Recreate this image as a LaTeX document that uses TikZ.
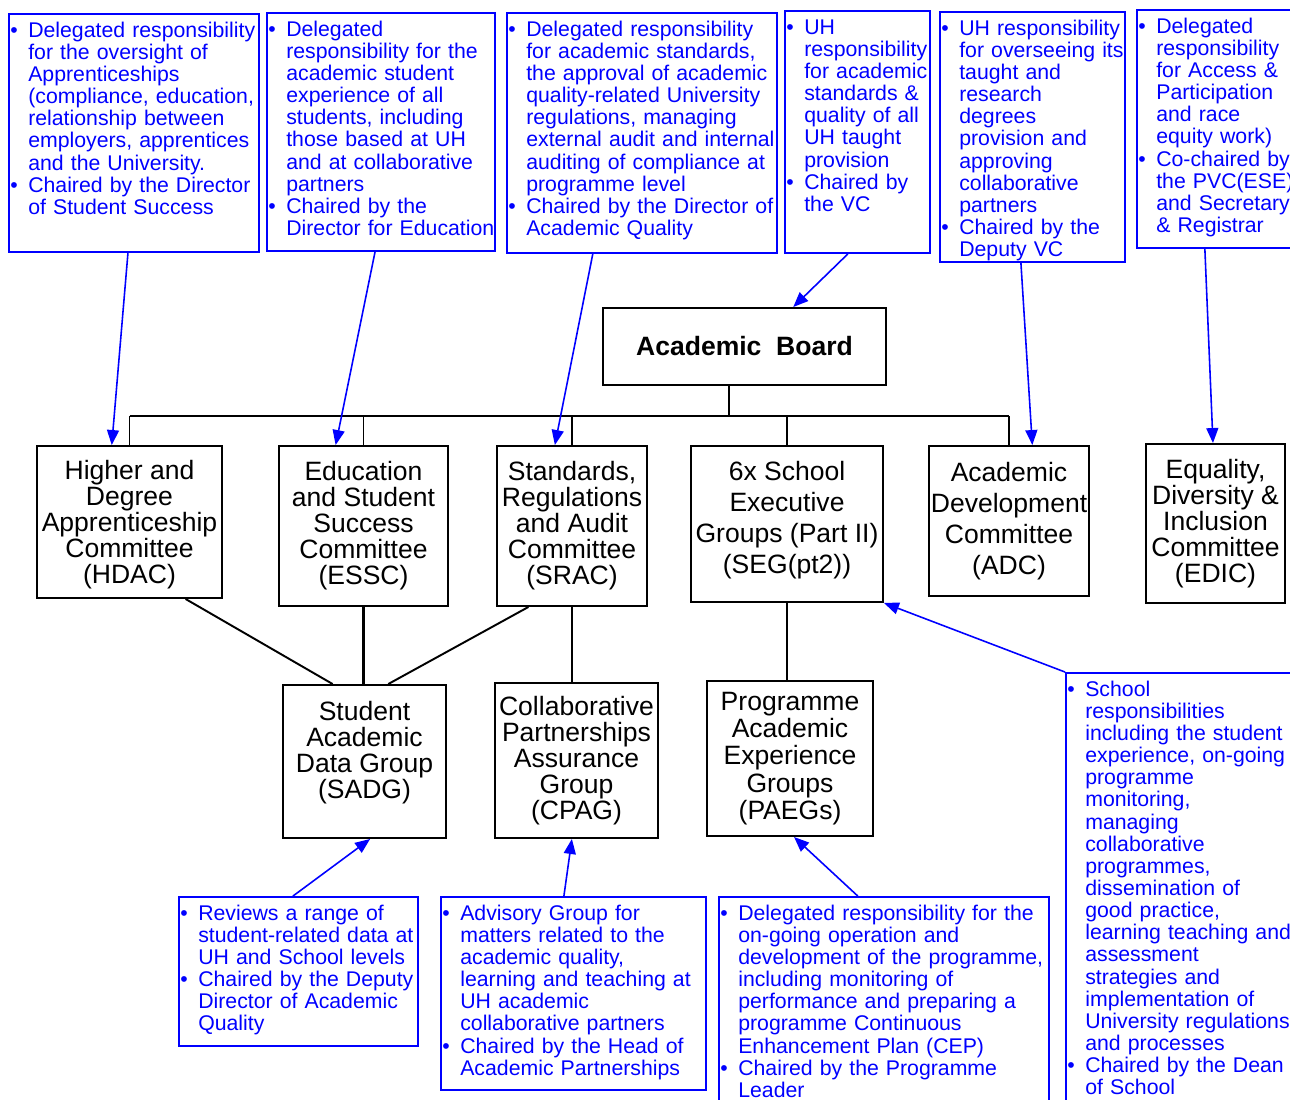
\documentclass[tikz,border=0pt]{standalone}
\usepackage{fontspec}
\setmainfont{Liberation Sans}
\usetikzlibrary{arrows.meta,calc}

\newlength{\bulw}
\setlength{\bulw}{10.2pt}
\newcommand{\bitem}{\par\noindent\hangindent=\bulw\hangafter=1\hbox to\bulw{\textbullet\hfil}\ignorespaces}
\newcommand{\orgfont}{\fontsize{15.1}{14.8}\selectfont\lineskiplimit=-10pt}
\newcommand{\notefont}{\fontsize{12.1}{12.6}\selectfont\lineskiplimit=-10pt}

\tikzset{
  org/.style={draw=black, line width=1.1pt, align=center, font=\orgfont, inner sep=0pt},
  notebox/.style={draw=blue, line width=1.1pt},
  notetext/.style={blue, font=\notefont, text width=12cm, align=left, anchor=north west, inner xsep=0.04cm, inner ysep=1pt},
  wh/.style 2 args={minimum width=#1*0.02cm, minimum height=#2*0.02cm},
  link/.style={black, line width=1.1pt},
  feed/.style={blue, line width=0.9pt, -{Triangle[length=0.3cm, width=0.24cm]}},
}

\begin{document}
\begin{tikzpicture}[x=0.02cm, y=-0.02cm]
  \useasboundingbox (0,0) rectangle (1290,1099);

  % Remit boxes along the top
  \node[notebox, wh={250}{238}] (hdacnote) at (134,133) {};
  \node[notetext] (hdacnote-t) at (hdacnote.north west) {%
    \bitem Delegated responsibility\newline for the oversight of\newline Apprenticeships\newline (compliance, education,\newline relationship between\newline employers, apprentices\newline and the University.
    \bitem Chaired by the Director\newline of Student Success\par};

  \node[notebox, wh={228}{238}] (esscnote) at (381,132) {};
  \node[notetext] (esscnote-t) at (esscnote.north west) {%
    \bitem Delegated\newline responsibility for the\newline academic student\newline experience of all\newline students, including\newline those based at UH\newline and at collaborative\newline partners
    \bitem Chaired by the\newline Director for Education\par};

  \node[notebox, wh={270}{240}] (sracnote) at (642,133) {};
  \node[notetext] (sracnote-t) at (sracnote.north west) {%
    \bitem Delegated responsibility\newline for academic standards,\newline the approval of academic\newline quality-related University\newline regulations, managing\newline external audit and internal\newline auditing of compliance at\newline programme level
    \bitem Chaired by the Director of\newline Academic Quality\par};

  \node[notebox, wh={145}{242}] (boardnote) at (857.5,132) {};
  \node[notetext] (boardnote-t) at (boardnote.north west) {%
    \bitem UH\newline responsibility\newline for academic\newline standards \&\newline quality of all\newline UH taught\newline provision
    \bitem Chaired by\newline the VC\par};

  \node[notebox, wh={185}{250}] (adcnote) at (1032.5,137) {};
  \node[notetext] (adcnote-t) at (adcnote.north west) {%
    \bitem UH responsibility\newline for overseeing its\newline taught and\newline research\newline degrees\newline provision and\newline approving\newline collaborative\newline partners
    \bitem Chaired by the\newline Deputy VC\par};

  \node[notebox, wh={168}{238}] (edicnote) at (1221,129) {};
  \node[notetext] (edicnote-t) at (edicnote.north west) {%
    \bitem Delegated\newline responsibility\newline for Access \&\newline Participation\newline and race\newline equity work)
    \bitem Co-chaired by\newline the PVC(ESE)\newline and Secretary\newline \& Registrar\par};

  % Committees
  \node[org, wh={283}{77}, font=\orgfont\bfseries] (board) at (744.5,346.5) {Academic~~Board};
  \node[org, wh={185}{152}, text depth=0pt] (hdac) at (129.5,522) {Higher and\\Degree\\Apprenticeship\\Committee\\(HDAC)};
  \node[org, wh={169}{160}] (essc) at (363.5,526) {Education\\and Student\\Success\\Committee\\(ESSC)};
  \node[org, wh={150}{160}] (srac) at (572,526) {Standards,\\Regulations\\and Audit\\Committee\\(SRAC)};
  \node[org, wh={192}{156}, font=\fontsize{15.1}{17.6}\selectfont, text depth=7.7pt] (seg) at (787,524) {6x School\\Executive\\Groups (Part II)\\(SEG(pt2))};
  \node[org, wh={160}{150}, font=\fontsize{15.1}{17.6}\selectfont] (adc) at (1009,521) {Academic\\Development\\Committee\\(ADC)};
  \node[org, wh={139}{159}] (edic) at (1215.5,523.5) {Equality,\\Diversity \&\\Inclusion\\Committee\\(EDIC)};
  \node[org, wh={163}{153}, text depth=13.4pt] (sadg) at (364.5,761.5) {Student\\Academic\\Data Group\\(SADG)};
  \node[org, wh={163}{155}] (cpag) at (576.5,760.5) {Collaborative\\Partnerships\\Assurance\\Group\\(CPAG)};
  \node[org, wh={166}{155}, font=\fontsize{15.1}{15.6}\selectfont] (paeg) at (790,758.5) {Programme\\Academic\\Experience\\Groups\\(PAEGs)};

  % Remit boxes along the bottom
  \node[notebox, wh={239}{149}] (sadgnote) at (298.5,971.5) {};
  \node[notetext] (sadgnote-t) at (sadgnote.north west) {%
    \bitem Reviews a range of\newline student-related data at\newline UH and School levels
    \bitem Chaired by the Deputy\newline Director of Academic\newline Quality\par};

  \node[notebox, wh={265}{193}] (cpagnote) at (573.5,993.5) {};
  \node[notetext] (cpagnote-t) at (cpagnote.north west) {%
    \bitem Advisory Group for\newline matters related to the\newline academic quality,\newline learning and teaching at\newline UH academic\newline collaborative partners
    \bitem Chaired by the Head of\newline Academic Partnerships\par};

  \node[notebox, wh={330}{213}] (paegnote) at (884,1003.5) {};
  \node[notetext] (paegnote-t) at (paegnote.north west) {%
    \bitem Delegated responsibility for the\newline on-going operation and\newline development of the programme,\newline including monitoring of\newline performance and preparing a\newline programme Continuous\newline Enhancement Plan (CEP)
    \bitem Chaired by the Programme\newline Leader\par};

  \node[notebox, wh={244}{437}] (schoolnote) at (1188,891.5) {};
  \node[notetext] (schoolnote-t) at (schoolnote.north west) {%
    \bitem School\newline responsibilities\newline including the student\newline experience, on-going\newline programme\newline monitoring,\newline managing\newline collaborative\newline programmes,\newline dissemination of\newline good practice,\newline learning teaching and\newline assessment\newline strategies and\newline implementation of\newline University regulations\newline and processes
    \bitem Chaired by the Dean\newline of School\par};

  % Reporting lines from the board
  \coordinate (bustop) at ($(board.south west)!.445!(board.south east)$);
  \coordinate (bus) at ($(bustop)+(0,30)$);
  \draw[link] (bustop) -- (bus);
  \draw[link] (hdac.north |- bus) -- (adc.north |- bus);
  \foreach \n in {hdac,essc,srac,seg,adc}
    \draw[link] (\n.north) -- (\n.north |- bus);

  % Sub-groups
  \draw[link] ($(hdac.south west)!.8!(hdac.south east)$) -- ($(sadg.north west)!.307!(sadg.north east)$);
  \draw[link, line width=1.6pt] (essc.south) -- (essc.south |- sadg.north);
  \draw[link] ($(srac.south west)!.213!(srac.south east)$) -- ($(sadg.north west)!.644!(sadg.north east)$);
  \draw[link, line width=1.6pt] (srac.south) -- (srac.south |- cpag.north);
  \draw[link, line width=1.6pt] (seg.south) -- (seg.south |- paeg.north);

  % Remit arrows
  \draw[feed] ($(hdacnote.south west)!.476!(hdacnote.south east)$) -- ($(hdac.north west)!.405!(hdac.north east)$);
  \draw[feed] ($(esscnote.south west)!.474!(esscnote.south east)$) -- ($(essc.north west)!.337!(essc.north east)$);
  \draw[feed] ($(sracnote.south west)!.319!(sracnote.south east)$) -- ($(srac.north west)!.387!(srac.north east)$);
  \draw[feed] ($(boardnote.south west)!.434!(boardnote.south east)$) -- ($(board.north west)!.671!(board.north east)$);
  \draw[feed] ($(adcnote.south west)!.438!(adcnote.south east)$) -- ($(adc.north west)!.644!(adc.north east)$);
  \draw[feed] ($(edicnote.south west)!.405!(edicnote.south east)$) -- ($(edic.north west)!.482!(edic.north east)$);
  \draw[feed] (schoolnote.north west) -- (seg.south east);
  \draw[feed] ($(sadgnote.north west)!.477!(sadgnote.north east)$) -- ($(sadg.south west)!.534!(sadg.south east)$);
  \draw[feed] ($(cpagnote.north west)!.464!(cpagnote.north east)$) -- ($(cpag.south west)!.472!(cpag.south east)$);
  \draw[feed] ($(paegnote.north west)!.421!(paegnote.north east)$) -- ($(paeg.south west)!.524!(paeg.south east)$);
\end{tikzpicture}
\end{document}
